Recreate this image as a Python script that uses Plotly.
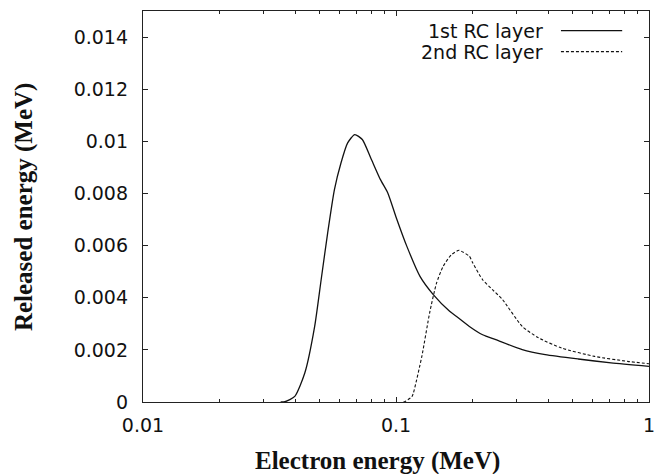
import plotly.graph_objects as go

# 1st RC layer (solid)
e1 = [0.035, 0.0364, 0.0398, 0.0436, 0.0477, 0.0506, 0.0537, 0.0571, 0.0606, 0.0644,
      0.0687, 0.0736, 0.0794, 0.0868, 0.0928, 0.1, 0.1104, 0.1244, 0.1404, 0.1629,
      0.173, 0.195, 0.220, 0.248, 0.3155, 0.389, 0.525, 0.708, 1.0]
r1 = [0.0, 0.00001, 0.000215, 0.00111, 0.0029, 0.00469, 0.00649, 0.00815, 0.00917, 0.00994,
      0.01026, 0.01007, 0.00937, 0.00853, 0.00802, 0.0071, 0.00597, 0.00482, 0.00412, 0.00348,
      0.00329, 0.0029, 0.00258, 0.00239, 0.00201, 0.00182, 0.00165, 0.0015, 0.00137]

# 2nd RC layer (dashed)
e2 = [0.107, 0.1087, 0.1155, 0.1172, 0.1265, 0.136, 0.1445, 0.1535, 0.1655, 0.1758,
      0.178, 0.195, 0.201, 0.220, 0.2407, 0.2636, 0.3155, 0.3662, 0.452, 0.610, 0.823, 1.0]
r2 = [0.0, 0.00002, 0.0002, 0.00035, 0.00175, 0.00345, 0.00455, 0.0052, 0.00565, 0.00581,
      0.00582, 0.00559, 0.00534, 0.00469, 0.00431, 0.00393, 0.0029, 0.00246, 0.00207, 0.00175, 0.00156, 0.00147]

x_ticks = [0.01, 0.1, 1]
x_ticktext = ["0.01", "0.1", "1"]
y_ticks = [0, 0.002, 0.004, 0.006, 0.008, 0.01, 0.012, 0.014]
y_ticktext = ["0", "0.002", "0.004", "0.006", "0.008", "0.01", "0.012", "0.014"]
legend_names = ["1st RC layer", "2nd RC layer"]
x_title = "Electron energy (MeV)"
y_title = "Released energy (MeV)"

fig = go.Figure()
fig.add_trace(go.Scatter(x=e1, y=r1, mode="lines", name=legend_names[0],
                         line=dict(color="#111111", width=1.3, shape="spline", smoothing=0.6)))
fig.add_trace(go.Scatter(x=e2, y=r2, mode="lines", name=legend_names[1],
                         line=dict(color="#111111", width=1.1, dash="3px,2px", shape="spline", smoothing=0.6)))

tickfont = dict(family="DejaVu Sans, sans-serif", size=19, color="#111111")
titlefont = dict(family="Liberation Serif, Times New Roman, serif", size=25, color="#111111")

fig.update_xaxes(type="log", range=[-2, 0], tickvals=x_ticks, ticktext=x_ticktext,
                 ticks="inside", ticklen=5, tickwidth=1, tickcolor="#222222",
                 minor=dict(ticks="inside", ticklen=3, tickwidth=1, tickcolor="#222222",
                            dtick="D1", showgrid=False),
                 showline=True, linecolor="#222222", linewidth=1.3, mirror="allticks",
                 showgrid=False, zeroline=False, tickfont=tickfont, ticklabelstandoff=6,
                 ticklabeloverflow="allow")
fig.update_yaxes(range=[0, 0.015], tickvals=y_ticks, ticktext=y_ticktext,
                 ticks="inside", ticklen=5, tickwidth=1, tickcolor="#222222",
                 showline=True, linecolor="#222222", linewidth=1.3, mirror="allticks",
                 showgrid=False, zeroline=False, tickfont=tickfont, ticklabelstandoff=10)

# axis titles (placed like the original)
fig.add_annotation(x=0.463, y=-0.152, xref="paper", yref="paper", text="<b>" + x_title + "</b>",
                   showarrow=False, xanchor="center", yanchor="middle", font=titlefont)
fig.add_annotation(x=-0.236, y=0.5, xref="paper", yref="paper", text="<b>" + y_title + "</b>",
                   showarrow=False, xanchor="center", yanchor="middle", textangle=-90, font=titlefont)

# gnuplot-style legend: text right, sample line to its right
legend_y = [0.9497, 0.896]
dashes = ["solid", "3px,2px"]
for name, yy, d in zip(legend_names, legend_y, dashes):
    fig.add_annotation(x=0.795, y=yy, xref="paper", yref="paper", text=name, showarrow=False,
                       xanchor="right", yanchor="middle",
                       font=dict(family="DejaVu Sans, sans-serif", size=19, color="#111111"))
    fig.add_shape(type="line", xref="paper", yref="paper", x0=0.826, x1=0.947, y0=yy, y1=yy,
                  line=dict(color="#111111", width=1.1, dash=d))

fig.update_layout(width=660, height=474, margin=dict(l=143, r=5, t=11, b=72),
                  plot_bgcolor="white", paper_bgcolor="white", showlegend=False)

fig.write_html("out.html")
